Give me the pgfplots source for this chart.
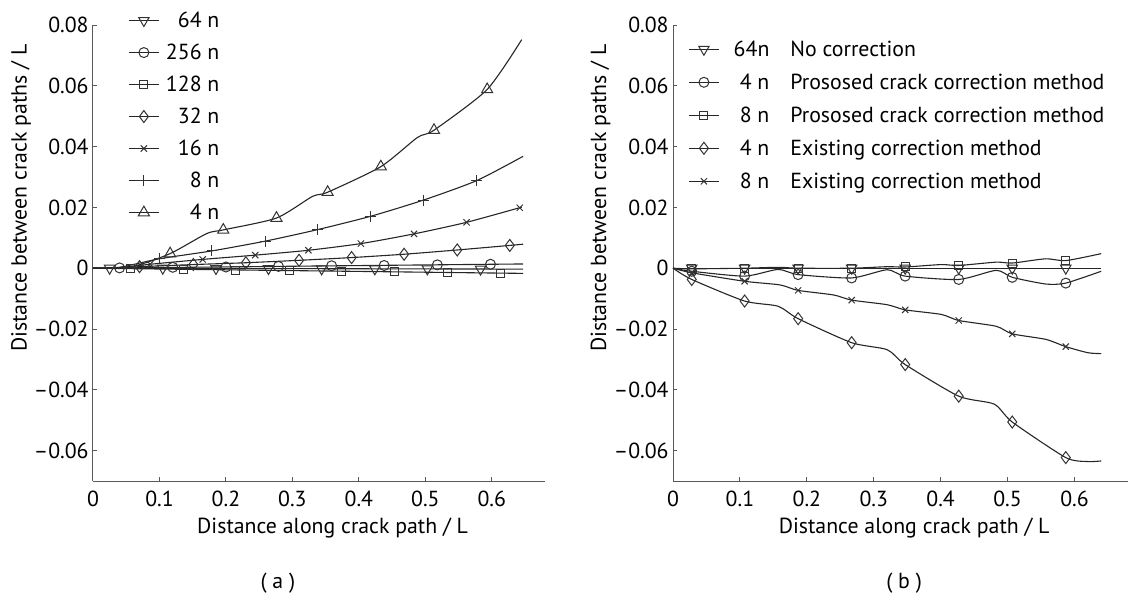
\documentclass[border=0pt]{standalone}
\usepackage{fontspec}
\setmainfont{PT Sans}
\usepackage{pgfplots}
\pgfplotsset{compat=1.18}
\definecolor{lncol}{HTML}{262626}
\definecolor{mkcol}{HTML}{333333}
\pgfplotsset{
  lm/.style={only marks, color=mkcol, line width=0.5pt,
    legend image code/.code={\draw[lncol, line width=0.5pt] (0pt,0pt) -- (15pt,0pt); \draw[##1] plot coordinates {(7.5pt,0pt)};}},
  lnsty/.style={lncol, line width=0.55pt, smooth, tension=0.4, forget plot, mark=none},
  base/.style={scale only axis, height=228pt,
    font=\fontsize{10.9}{13}\selectfont,
    ymin=-0.07, ymax=0.08, xmin=0, xmax=0.68,
    axis x line*=bottom, axis y line*=left,
    tick align=inside, major tick length=2pt,
    axis line style={black!65, line width=0.5pt},
    tick style={black!65, line width=0.5pt},
    xtick={0,0.1,0.2,0.3,0.4,0.5,0.6},
    xticklabels={0,0.1,0.2,0.3,0.4,0.5,0.6},
    ytick={-0.06,-0.04,-0.02,0,0.02,0.04,0.06,0.08},
    yticklabels={–0.06,–0.04,–0.02,0,0.02,0.04,0.06,0.08},
    scaled ticks=false,
    yticklabel style={inner sep=0pt, anchor=east, xshift=-2pt},
    xticklabel style={inner sep=0pt, anchor=north, yshift=-5pt},
    ylabel={Distance between crack paths / L},
    xlabel={Distance along crack path / L},
    ylabel style={at={(axis description cs:-0.159,0.62)}, anchor=center},
    xlabel style={at={(axis description cs:0.53,-0.103)}, anchor=center},
    legend cell align=left,
    clip=false,
  }
}
\begin{document}
\begin{tikzpicture}
\useasboundingbox (0,0) rectangle (564pt,298pt);
% ---------------- (a) ----------------
\begin{axis}[base, width=226pt, at={(46.5pt,57.5pt)}, anchor=south west,
  legend style={at={(axis description cs:0.0774,1.026)}, anchor=north west,
    draw=none, fill=none, inner sep=0pt, row sep=9pt,
    nodes={inner sep=0pt, text height=7pt, text depth=0pt}}]
% lines
\addplot[lnsty] coordinates {(0,0) (0.647,-0.0003)};
\addplot[lnsty] coordinates {(0,0) (0.647,0.0014)};
\addplot[lnsty] coordinates {(0,0) (0.647,-0.0017)};
\addplot[lnsty] coordinates {(0,0) (0.04,0.0001) (0.070,0.0005) (0.151,0.0012) (0.230,0.0018) (0.310,0.0026) (0.389,0.0035) (0.468,0.0046) (0.548,0.0060) (0.627,0.0075) (0.647,0.0079)};
\addplot[lnsty] coordinates {(0,0) (0.04,0.0002) (0.086,0.0013) (0.165,0.0029) (0.244,0.0043) (0.324,0.0059) (0.403,0.0081) (0.483,0.0113) (0.562,0.0151) (0.645,0.0201)};
\addplot[lnsty] coordinates {(0,0) (0.04,0.0003) (0.100,0.0031) (0.179,0.0057) (0.259,0.0089) (0.338,0.0127) (0.418,0.0171) (0.497,0.0224) (0.577,0.0288) (0.647,0.0368)};
\addplot[lnsty] coordinates {(0,0) (0.06,0.0006) (0.116,0.0048) (0.171,0.0114) (0.196,0.0126) (0.276,0.0165) (0.33,0.0236) (0.353,0.0250) (0.433,0.0334) (0.488,0.0430) (0.513,0.0454) (0.593,0.0588) (0.645,0.0752)};
% markers
\addplot[lm, mark=triangle, mark size=3pt, mark options={rotate=180}] coordinates {(0.025,0) (0.105,0) (0.185,-0.0001) (0.264,-0.0001) (0.344,-0.0002) (0.424,-0.0002) (0.503,-0.0002) (0.583,-0.0003)};
\addlegendentry{\makebox[30pt][r]{64 n}}
\addplot[lm, mark=o, mark size=2.5pt] coordinates {(0.040,0.0001) (0.120,0.0003) (0.200,0.0004) (0.279,0.0006) (0.359,0.0008) (0.438,0.0009) (0.518,0.0011) (0.598,0.0013)};
\addlegendentry{\makebox[30pt][r]{256 n}}
\addplot[lm, mark=square, mark size=2pt] coordinates {(0.056,-0.0001) (0.136,-0.0004) (0.215,-0.0006) (0.295,-0.0008) (0.374,-0.0010) (0.454,-0.0012) (0.533,-0.0014) (0.613,-0.0016)};
\addlegendentry{\makebox[30pt][r]{128 n}}
\addplot[lm, mark=diamond, mark size=3pt] coordinates {(0.070,0.0005) (0.151,0.0012) (0.230,0.0018) (0.310,0.0026) (0.389,0.0035) (0.468,0.0046) (0.548,0.0060) (0.627,0.0075)};
\addlegendentry{\makebox[30pt][r]{32 n}}
\addplot[lm, mark=x, mark size=2.2pt] coordinates {(0.086,0.0013) (0.165,0.0029) (0.244,0.0043) (0.324,0.0059) (0.403,0.0081) (0.483,0.0113) (0.562,0.0151) (0.642,0.0199)};
\addlegendentry{\makebox[30pt][r]{16 n}}
\addplot[lm, mark=+, mark size=2.7pt] coordinates {(0.100,0.0031) (0.179,0.0057) (0.259,0.0089) (0.338,0.0127) (0.418,0.0171) (0.497,0.0224) (0.577,0.0288)};
\addlegendentry{\makebox[30pt][r]{8 n}}
\addplot[lm, mark=triangle, mark size=3.2pt] coordinates {(0.116,0.0048) (0.196,0.0126) (0.276,0.0165) (0.353,0.0250) (0.433,0.0334) (0.513,0.0454) (0.593,0.0588)};
\addlegendentry{\makebox[30pt][r]{4 n}}
\node at (axis description cs:0.409,-0.2237) {( a )};
\end{axis}
% ---------------- (b) ----------------
\begin{axis}[base, width=227.5pt, at={(336.5pt,57.5pt)}, anchor=south west,
  legend style={at={(axis description cs:0.033,0.963)}, anchor=north west,
    draw=none, fill=none, inner sep=0pt, row sep=9.5pt,
    nodes={inner sep=0pt, text height=7pt, text depth=0pt}}]
\addplot[lnsty] coordinates {(0,0) (0.64,0)};
\addplot[lnsty] coordinates {(0,0) (0.028,-0.0010) (0.107,-0.0026) (0.157,-0.0004) (0.187,-0.0021) (0.267,-0.0032) (0.32,-0.0005) (0.347,-0.0026) (0.427,-0.0037) (0.483,-0.0007) (0.507,-0.0030) (0.557,-0.0052) (0.587,-0.0049) (0.64,-0.0010)};
\addplot[lnsty] coordinates {(0,0) (0.028,-0.0002) (0.107,0.0000) (0.157,0.0003) (0.187,0.0000) (0.267,0.0000) (0.32,0.0005) (0.347,0.0004) (0.401,0.0012) (0.427,0.0009) (0.483,0.0020) (0.507,0.0017) (0.557,0.0031) (0.587,0.0025) (0.64,0.0048)};
\addplot[lnsty] coordinates {(0,0) (0.028,-0.0037) (0.107,-0.0108) (0.157,-0.0125) (0.187,-0.0166) (0.267,-0.0245) (0.32,-0.0268) (0.347,-0.0317) (0.427,-0.0421) (0.48,-0.0447) (0.507,-0.0506) (0.587,-0.0623) (0.62,-0.0636) (0.64,-0.0634)};
\addplot[lnsty] coordinates {(0,0) (0.028,-0.0015) (0.107,-0.0043) (0.16,-0.0055) (0.187,-0.0073) (0.24,-0.0088) (0.267,-0.0105) (0.32,-0.0120) (0.347,-0.0137) (0.401,-0.0152) (0.427,-0.0172) (0.483,-0.0191) (0.507,-0.0216) (0.557,-0.0234) (0.587,-0.0258) (0.62,-0.0278) (0.64,-0.0281)};
\addplot[lm, mark=triangle, mark size=3pt, mark options={rotate=180}] coordinates {(0.028,0) (0.107,0) (0.187,0) (0.267,0) (0.347,0) (0.427,0) (0.507,0) (0.587,0)};
\addlegendentry{\makebox[25pt][r]{64n}\hspace{10.5pt}No correction}
\addplot[lm, mark=o, mark size=2.5pt] coordinates {(0.028,-0.0010) (0.107,-0.0026) (0.187,-0.0021) (0.267,-0.0032) (0.347,-0.0026) (0.427,-0.0037) (0.507,-0.0030) (0.587,-0.0049)};
\addlegendentry{\makebox[25pt][r]{4 n}\hspace{10.5pt}Prososed crack correction method}
\addplot[lm, mark=square, mark size=2pt] coordinates {(0.028,-0.0002) (0.107,0.0000) (0.187,0.0000) (0.267,0.0000) (0.347,0.0004) (0.427,0.0009) (0.507,0.0017) (0.587,0.0025)};
\addlegendentry{\makebox[25pt][r]{8 n}\hspace{10.5pt}Prososed crack correction method}
\addplot[lm, mark=diamond, mark size=3pt] coordinates {(0.028,-0.0037) (0.107,-0.0108) (0.187,-0.0166) (0.267,-0.0245) (0.347,-0.0317) (0.427,-0.0421) (0.507,-0.0506) (0.587,-0.0623)};
\addlegendentry{\makebox[25pt][r]{4 n}\hspace{10.5pt}Existing correction method}
\addplot[lm, mark=x, mark size=2.2pt] coordinates {(0.028,-0.0015) (0.107,-0.0043) (0.187,-0.0073) (0.267,-0.0105) (0.347,-0.0137) (0.427,-0.0172) (0.507,-0.0216) (0.587,-0.0258)};
\addlegendentry{\makebox[25pt][r]{8 n}\hspace{10.5pt}Existing correction method}
\node at (axis description cs:0.508,-0.2237) {( b )};
\end{axis}
\end{tikzpicture}
\end{document}
